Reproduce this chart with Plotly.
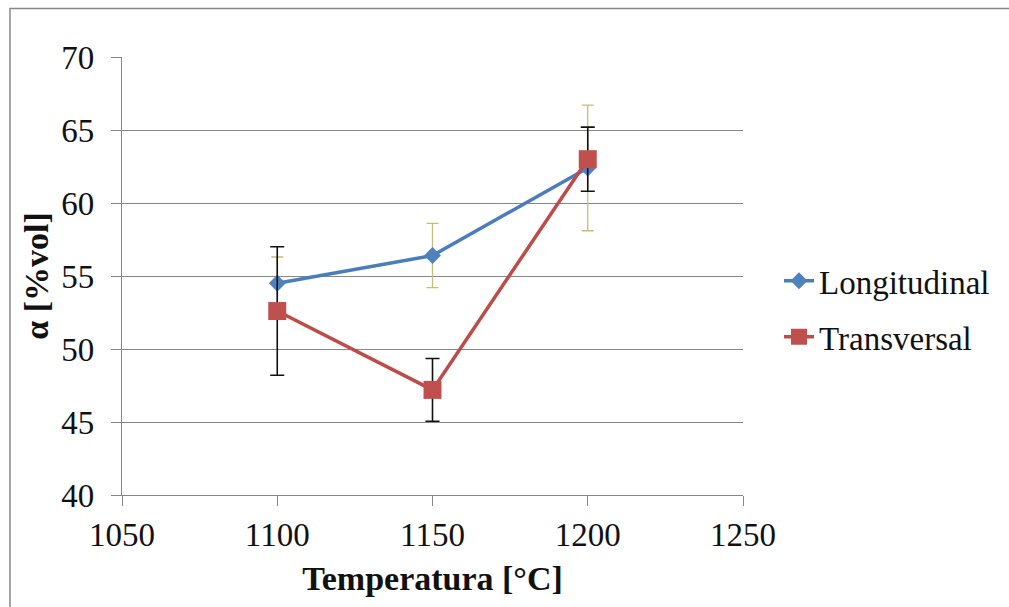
import plotly.graph_objects as go

temps = [1100, 1150, 1200]
long_vals = [54.5, 56.4, 62.4]
long_err = [1.8, 2.2, 4.3]
trans_vals = [52.6, 47.2, 63.0]
trans_err = [4.4, 2.15, 2.2]
x_ticks = [1050, 1100, 1150, 1200, 1250]
y_ticks = [40, 45, 50, 55, 60, 65, 70]

FONT = "Liberation Serif"

fig = go.Figure()
fig.add_trace(go.Scatter(
    x=temps, y=long_vals, name="Longitudinal", mode="lines+markers",
    legendgroup="a",
    line=dict(color="#4a7ebb", width=3.5),
    marker=dict(symbol="diamond", size=13, color="#4f81bd"),
    error_y=dict(type="data", array=long_err, visible=True,
                 color="#bcc27a", thickness=1.3, width=6),
))
fig.add_trace(go.Scatter(
    x=temps, y=trans_vals, name="Transversal", mode="lines+markers",
    legendgroup="b",
    line=dict(color="#be4b48", width=3.5),
    marker=dict(symbol="square", size=18, color="#c0504d"),
    error_y=dict(type="data", array=trans_err, visible=True,
                 color="#111111", thickness=1.6, width=7),
))

fig.update_layout(
    width=1009, height=607,
    margin=dict(l=122, r=266, t=57, b=112),
    paper_bgcolor="white", plot_bgcolor="white",
    font=dict(family=FONT, size=33, color="#111111"),
    showlegend=True,
    legend=dict(x=1.058, y=0.425, xanchor="left", yanchor="middle",
                font=dict(family=FONT, size=33, color="#111111"),
                tracegroupgap=10, bgcolor="rgba(0,0,0,0)"),
    xaxis=dict(range=[1050, 1250], tickvals=x_ticks, ticktext=[str(v) for v in x_ticks],
               showgrid=False, zeroline=False, showline=True,
               linecolor="#868686", linewidth=1.2,
               ticks="outside", ticklen=10, tickcolor="#868686",
               title=dict(text="<b>Temperatura [°C]</b>", font=dict(family=FONT, size=34),
                          standoff=14)),
    yaxis=dict(range=[40, 70], tickvals=y_ticks, ticktext=[str(v) for v in y_ticks],
               showgrid=True, gridcolor="#868686", gridwidth=1,
               zeroline=False, showline=True,
               linecolor="#868686", linewidth=1.2,
               ticks="outside", ticklen=10, tickcolor="#868686",
               ticklabelstandoff=10,
               title=dict(text="<b>α [%vol]</b>", font=dict(family=FONT, size=34),
                          standoff=2)),
    shapes=[dict(type="rect", xref="paper", yref="paper",
                 x0=(10 - 122) / 621, x1=(1040 - 122) / 621,
                 y0=(495 - 640) / 438, y1=(495 - 8.5) / 438,
                 line=dict(color="#888888", width=1.5), layer="below")],
)

fig.write_html("out.html")
